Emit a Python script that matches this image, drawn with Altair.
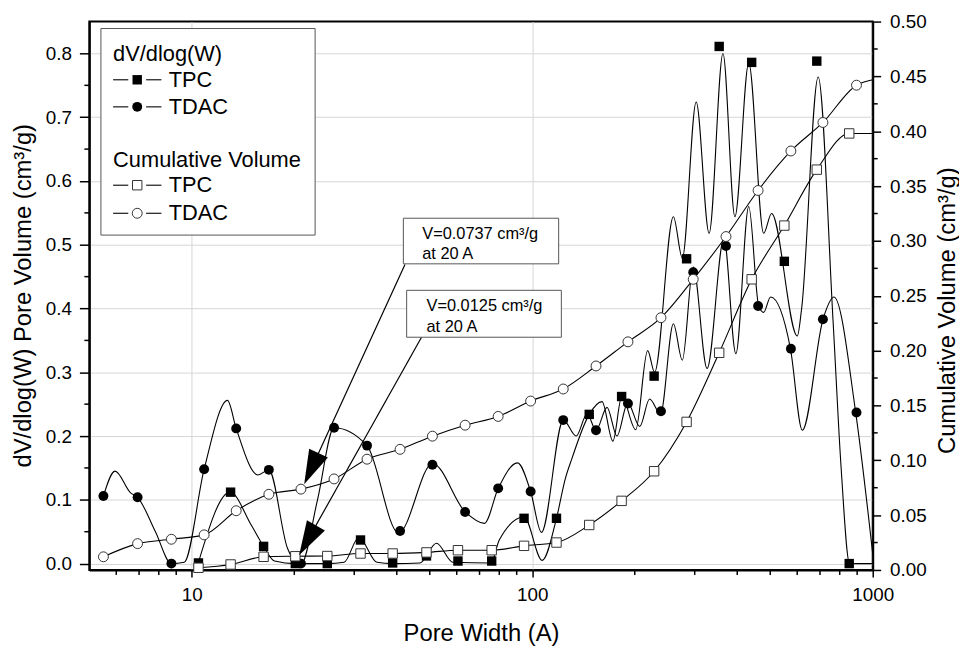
import altair as alt
import pandas as pd

FONT = "Liberation Sans"

# ---------------- data ----------------
# TDAC markers (pore width in Angstrom)
tdac_w = [5.5, 6.93, 8.71, 10.87, 13.5, 16.84, 20.92, 26.17, 32.71, 40.9, 50.9, 63.5,
          79.4, 98.9, 123.3, 153.9, 191.0, 238.8, 297.0, 370.7, 460.6, 575.0, 714.0, 896.0]
tdac_dv = [0.106, 0.104, 0.0, 0.148, 0.212, 0.147, 0.0, 0.213, 0.185, 0.051, 0.155, 0.081,
           0.118, 0.113, 0.225, 0.209, 0.251, 0.239, 0.457, 0.498, 0.404, 0.337, 0.383, 0.237]
tdac_cum = [0.012, 0.024, 0.028, 0.032, 0.054, 0.069, 0.0737, 0.083, 0.101, 0.110, 0.122, 0.132,
            0.140, 0.154, 0.165, 0.186, 0.208, 0.230, 0.265, 0.304, 0.346, 0.382, 0.408, 0.442]
tdac_cum_end = [1000, 0.447]

# TPC markers
tpc_w = [10.46, 13.0, 16.25, 20.14, 25.0, 31.3, 38.9, 48.9, 60.5, 76.0, 94.6, 117.8,
         147.0, 183.0, 228.0, 284.0, 354.0, 441.0, 550.0, 685.0, 853.0]
tpc_dv = [0.001, 0.112, 0.027, 0.0, 0.0, 0.037, 0.001, 0.012, 0.004, 0.004, 0.071, 0.071,
          0.234, 0.262, 0.294, 0.478, 0.811, 0.786, 0.474, 0.788, 0.0]
tpc_cum = [0.002, 0.005, 0.012, 0.0125, 0.0127, 0.015, 0.015, 0.016, 0.018, 0.018, 0.022, 0.025,
           0.041, 0.063, 0.090, 0.135, 0.198, 0.265, 0.314, 0.365, 0.398]
tpc_cum_end = [1000, 0.398]

# smoothed dV curves (denser, incl. the peaks and valleys of the smoothed curves)
tdac_line_w = [5.50, 5.95, 6.61, 6.93, 7.82, 8.71, 9.5, 10.87, 12.73, 13.50, 15.64, 16.84,
               19.1, 20.9, 23.4, 26.17, 32.71, 40.47, 50.93, 63.56, 72.33, 79.45, 90.5, 98.9,
               106.4, 123.4, 134.6, 144.9, 153.9, 165.8, 177.3, 190.8, 206.8, 221.1, 238.1,
               259.7, 275.9, 297.0, 326.2, 365.6, 396.3, 432.4, 462.4, 478.2, 501.2, 573.2,
               621.2, 715.1, 769.6, 890.6, 1000]
tdac_line_v = [0.106, 0.145, 0.111, 0.104, 0.050, 0.0, 0.002, 0.148, 0.256, 0.212, 0.139, 0.147,
               0.024, -0.002, 0.10, 0.213, 0.185, 0.048, 0.157, 0.081, 0.063, 0.118, 0.158, 0.113,
               0.049, 0.225, 0.200, 0.235, 0.209, 0.245, 0.200, 0.252, 0.215, 0.258, 0.235,
               0.376, 0.319, 0.465, 0.306, 0.51, 0.329, 0.56, 0.404, 0.394, 0.418, 0.337,
               0.209, 0.384, 0.418, 0.238, 0.015]
tpc_line_w = [10.46, 12.96, 14.96, 16.25, 17.50, 20.14, 25.0, 28.0, 30.94, 35.0, 38.9, 46.8,
              52.3, 58.5, 75.6, 80.0, 94.6, 106.9, 117.8, 125.0, 130.8, 147.0, 160.3, 172.5,
              183.2, 201.3, 218.2, 228.7, 259.7, 275.9, 303.0, 330.7, 363.2, 393.7, 432.4,
              478.2, 504.6, 600.6, 618.3, 691.5, 764.8, 806.9, 855.3, 1000]
tpc_line_v = [0.002, 0.112, 0.06, 0.027, 0.004, 0.0, 0.0, 0.002, 0.041, 0.002, 0.0, 0.001,
              0.032, 0.002, 0.001, 0.037, 0.073, 0.005, 0.071, 0.133, 0.165, 0.234, 0.254, 0.192,
              0.262, 0.21, 0.334, 0.300, 0.544, 0.479, 0.724, 0.518, 0.80, 0.544, 0.785,
              0.518, 0.549, 0.357, 0.40, 0.763, 0.38, 0.153, 0.0, 0.0]

# annotations: cumulative volume at 20 A
ann_w = [20.92, 20.14]
ann_v = [0.0737, 0.0125]

x_minor = [6, 7, 8, 9, 20, 30, 40, 50, 60, 70, 80, 90, 200, 300, 400, 500, 600, 700, 800, 900]
yl_minor = [round(0.05 + 0.1 * i, 2) for i in range(8)]
yr_minor = [round(0.025 + 0.05 * i, 3) for i in range(10)]

# ---------------- encodings ----------------
x_enc = alt.X(
    "w:Q",
    scale=alt.Scale(type="log", domain=[5, 1000], nice=False),
    axis=alt.Axis(values=[10, 100, 1000], format="d", title="Pore Width (A)",
                  grid=True, gridColor="#d6d6d6", gridWidth=1,
                  tickSize=7, tickWidth=1.5, tickColor="black",
                  domainColor="black", domainWidth=2, labelFlush=False,
                  labelFont=FONT, labelFontSize=19, labelColor="black", labelPadding=9,
                  titleFont=FONT, titleFontSize=24, titleFontWeight="normal", titleColor="black",
                  titleX=395, titleY=64, titleAlign="center", titleBaseline="middle"),
)
y_left = alt.Y(
    "v:Q",
    scale=alt.Scale(domain=[-0.01, 0.85], nice=False, zero=False),
    axis=alt.Axis(orient="left", values=[round(0.1 * i, 1) for i in range(9)], format=".1f",
                  title="dV/dlog(W) Pore Volume (cm³/g)",
                  grid=True, gridColor="#d6d6d6", gridWidth=1,
                  tickSize=10, tickWidth=1.5, tickColor="black",
                  domainColor="black", domainWidth=2,
                  labelFont=FONT, labelFontSize=19, labelColor="black", labelPadding=8,
                  titleFont=FONT, titleFontSize=24, titleFontWeight="normal", titleColor="black",
                  titleX=-66, titleY=276, titleAngle=270, titleAlign="center",
                  titleBaseline="middle"),
)
y_right = alt.Y(
    "v:Q",
    scale=alt.Scale(domain=[0, 0.5], nice=False, zero=False),
    axis=alt.Axis(orient="right", values=[round(0.05 * i, 2) for i in range(11)], format=".2f",
                  title="Cumulative Volume (cm³/g)", grid=False,
                  tickSize=8, tickWidth=1.5, tickColor="black",
                  domainColor="black", domainWidth=2,
                  labelFont=FONT, labelFontSize=19, labelColor="black", labelPadding=9,
                  titleFont=FONT, titleFontSize=24, titleFontWeight="normal", titleColor="black",
                  titleX=75, titleY=291, titleAngle=270, titleAlign="center",
                  titleBaseline="middle"),
)


def df(w, v):
    return pd.DataFrame({"w": w, "v": v})


LINE = dict(color="black", strokeWidth=1.1, interpolate="monotone")
FILLED_SQ = dict(shape="square", filled=True, color="black", size=90, opacity=1)
FILLED_CI = dict(shape="circle", filled=True, color="black", size=100, opacity=1)
OPEN_SQ = dict(shape="square", filled=True, fill="white", stroke="#333", strokeWidth=1, size=90, opacity=1)
OPEN_CI = dict(shape="circle", filled=True, fill="white", stroke="#333", strokeWidth=1, size=100, opacity=1)

# ---------------- left (dV/dlog W) group ----------------
x_minor_ticks = alt.Chart(pd.DataFrame({"w": x_minor})).mark_rule(color="black", strokeWidth=1.5).encode(
    x=x_enc, y=alt.value(553), y2=alt.value(558))
yl_minor_ticks = alt.Chart(pd.DataFrame({"v": yl_minor})).mark_rule(color="black", strokeWidth=1.5).encode(
    y=y_left, x=alt.value(-5), x2=alt.value(0))
tpc_dv_line = alt.Chart(df(tpc_line_w, tpc_line_v)).mark_line(**LINE).encode(x=x_enc, y=y_left)
tdac_dv_line = alt.Chart(df(tdac_line_w, tdac_line_v)).mark_line(**LINE).encode(x=x_enc, y=y_left)
tpc_dv_pts = alt.Chart(df(tpc_w, tpc_dv)).mark_point(**FILLED_SQ).encode(x=x_enc, y=y_left)
tdac_dv_pts = alt.Chart(df(tdac_w, tdac_dv)).mark_point(**FILLED_CI).encode(x=x_enc, y=y_left)

dv_group = alt.layer(x_minor_ticks, yl_minor_ticks, tpc_dv_line, tdac_dv_line, tpc_dv_pts, tdac_dv_pts)

# ---------------- right (cumulative) group ----------------
yr_minor_ticks = alt.Chart(pd.DataFrame({"v": yr_minor})).mark_rule(color="black", strokeWidth=1.5).encode(
    y=y_right, x=alt.value(790), x2=alt.value(795))
tpc_cum_line = alt.Chart(df(tpc_w + [tpc_cum_end[0]], tpc_cum + [tpc_cum_end[1]])).mark_line(**LINE).encode(
    x=x_enc, y=y_right)
tdac_cum_line = alt.Chart(df(tdac_w + [tdac_cum_end[0]], tdac_cum + [tdac_cum_end[1]])).mark_line(**LINE).encode(
    x=x_enc, y=y_right)
tpc_cum_pts = alt.Chart(df(tpc_w, tpc_cum)).mark_point(**OPEN_SQ).encode(x=x_enc, y=y_right)
tdac_cum_pts = alt.Chart(df(tdac_w, tdac_cum)).mark_point(**OPEN_CI).encode(x=x_enc, y=y_right)

one = pd.DataFrame({"k": [0]})


def vrule(x1, x2, y1, y2, **kw):
    return alt.Chart(one).mark_rule(color="black", **kw).encode(
        x=alt.value(x1), x2=alt.value(x2), y=alt.value(y1), y2=alt.value(y2))


def vrect(x1, x2, y1, y2, **kw):
    return alt.Chart(one).mark_rect(**kw).encode(
        x=alt.value(x1), x2=alt.value(x2), y=alt.value(y1), y2=alt.value(y2))


def vtext(x, y, s, size):
    return alt.Chart(one).mark_text(text=s, align="left", baseline="middle", font=FONT,
                                    fontSize=size, color="black").encode(x=alt.value(x), y=alt.value(y))


def vpoint(x, y, style):
    return alt.Chart(one).mark_point(**style).encode(x=alt.value(x), y=alt.value(y))


ARROW = "M0,-1L0.6,1L-0.6,1Z"
# (head offset from the data point, head angle, box corner where the arrow starts)
arrow_specs = [((10.5, -20.6), 204.7, (318.3, 245.0)),
               ((12.3, -16.0), 209.3, (335.0, 318.3))]
arrows = []
for i, ((dx, dy), ang, (bx, by)) in enumerate(arrow_specs):
    d = df([ann_w[i]], [ann_v[i]])
    arrows.append(alt.Chart(d).mark_rule(color="black", strokeWidth=1.2, xOffset=dx, yOffset=dy).encode(
        x=x_enc, y=y_right, x2=alt.value(bx), y2=alt.value(by)))
    arrows.append(alt.Chart(d).mark_point(shape=ARROW, size=1200, angle=ang, filled=True, color="black",
                                          opacity=1, strokeWidth=0, xOffset=dx, yOffset=dy).encode(
        x=x_enc, y=y_right))

callouts = [
    vrect(316.7, 473.3, 198.3, 244.3, fill="white", stroke="#555", strokeWidth=1),
    vtext(335.7, 214.3, f"V={ann_v[0]:.4f} cm³/g", 16.5),
    vtext(335.7, 234.3, "at 20 A", 16.5),
    vrect(320.0, 476.0, 271.0, 318.3, fill="white", stroke="#555", strokeWidth=1),
    vtext(340.0, 287.3, f"V={ann_v[1]:.4f} cm³/g", 16.5),
    vtext(340.0, 307.7, "at 20 A", 16.5),
]

legend = [vrect(11.7, 227.7, 7.0, 215.3, fill="white", stroke="#555", strokeWidth=1),
          vtext(24, 32.7, "dV/dlog(W)", 22),
          vtext(24, 139.3, "Cumulative Volume", 22)]
for yy, style, lab in [(58.7, FILLED_SQ, "TPC"), (86.0, FILLED_CI, "TDAC"),
                       (165.0, OPEN_SQ, "TPC"), (193.3, OPEN_CI, "TDAC")]:
    legend += [vrule(24, 39.3, yy, yy, strokeWidth=1.1),
               vrule(57.3, 72.7, yy, yy, strokeWidth=1.1),
               vpoint(48.3, yy, style),
               vtext(80, yy, lab, 22)]

cum_group = alt.layer(yr_minor_ticks, tpc_cum_line, tdac_cum_line, tpc_cum_pts, tdac_cum_pts,
                      *arrows, *callouts, *legend)

chart = (
    alt.layer(dv_group, cum_group)
    .resolve_scale(y="independent")
    .properties(width=790, height=553,
                autosize=alt.AutoSizeParams(type="none"),
                padding={"left": 82, "top": 11, "right": 87, "bottom": 76})
    .configure_view(stroke="black", strokeWidth=2)
)

chart.save("out.html", embed_options={"renderer": "svg", "actions": False})
